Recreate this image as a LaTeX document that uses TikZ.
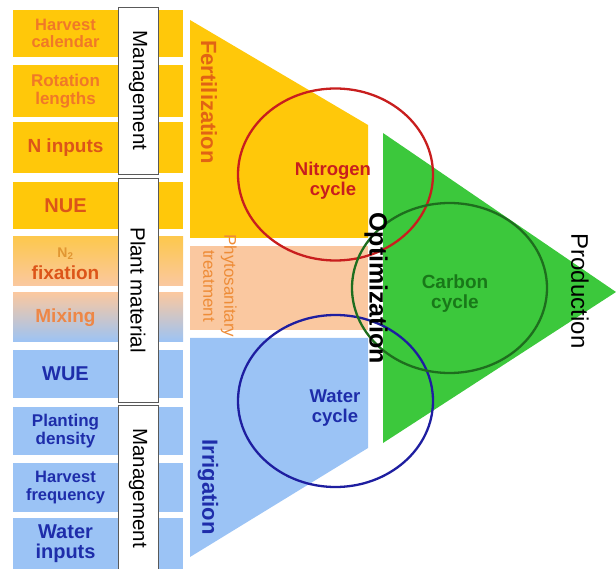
\documentclass[tikz,border=0pt]{standalone}
\usepackage{fontspec}
\setmainfont{Liberation Sans}
\definecolor{cyellow}{RGB}{255,200,10}
\definecolor{cpeach}{RGB}{250,200,160}
\definecolor{cblue}{RGB}{155,195,245}
\definecolor{cgreen}{RGB}{60,200,60}
\definecolor{torange}{RGB}{240,120,40}
\definecolor{tred}{RGB}{220,85,25}
\definecolor{tgold}{RGB}{225,150,50}
\definecolor{tmix}{RGB}{238,135,70}
\definecolor{tblue}{RGB}{30,45,170}
\definecolor{tfert}{RGB}{225,100,20}
\definecolor{tphyto}{RGB}{238,140,55}
\definecolor{nred}{RGB}{200,30,30}
\definecolor{wblue}{RGB}{30,30,160}
\definecolor{cdkgreen}{RGB}{30,110,30}
\definecolor{tcarbon}{RGB}{25,120,25}
\newcommand{\fsz}[2]{\fontsize{#1}{#2}\selectfont}
\begin{document}
\begin{tikzpicture}[x=1pt,y=-1pt,
  lbl/.style={inner sep=0pt, align=center, font=\bfseries\fsz{17}{18}},
  side/.style={draw=black!65, line width=0.8pt, fill=white, minimum height=40pt,
    inner sep=0pt, rotate=-90, font=\fsz{20.5}{22}},
  vtext/.style={inner sep=0pt, rotate=-90, align=center},
  cyc/.style={line width=2.3pt}]
\useasboundingbox (0,0) rectangle (616,569);

% left column of factor rows
\fill[cyellow] (13,10) rectangle (183,57);
\fill[cyellow] (13,65) rectangle (183,117);
\fill[cyellow] (13,122) rectangle (183,173);
\fill[cyellow] (13,182) rectangle (183,229);
\shade[top color=cyellow!55!cpeach, bottom color=cpeach] (13,237) rectangle (183,286);
\shade[top color=cpeach, middle color=cpeach!70!cblue, bottom color=cblue] (13,293) rectangle (183,342);
\fill[cblue] (13,350) rectangle (183,398);
\fill[cblue] (13,407) rectangle (183,455);
\fill[cblue] (13,463) rectangle (183,512);
\fill[cblue] (13,518) rectangle (183,569);

% group labels
\node[side, minimum width=167pt] (mgmtA) at (138,90.5) {Management};
\node[side, minimum width=224pt] (plant) at (138,290) {Plant material};
\node[side, minimum width=166pt] (mgmtB) at (138,488) {Management};

% practices: fertilization / phytosanitary / irrigation
\fill[cyellow] (190,20) -- (368,125) -- (368,238) -- (190,238) -- cycle;
\fill[cpeach] (190,246) rectangle (368,330);
\fill[cblue] (190,338) -- (368,338) -- (368,448) -- (190,557) -- cycle;

% production triangle
\fill[cgreen] (383,133) -- (616,292) -- (383,443) -- cycle;

% cycles
\draw[cyc, nred] (335.5,174.5) ellipse [x radius=97.5pt, y radius=86pt];
\draw[cyc, wblue] (335.5,401) ellipse [x radius=97.5pt, y radius=86pt];
\draw[cyc, cdkgreen] (449.5,288) ellipse [x radius=97.5pt, y radius=85pt];

% row texts
\node[lbl, torange, font=\bfseries\fsz{16.5}{17}] (hc) at (65.5,33.5) {Harvest\\calendar};
\node[lbl, torange] (rl) at (65.5,91) {Rotation\\lengths};
\node[lbl, tred, font=\bfseries\fsz{19}{20}] (ni) at (65.5,147.5) {N inputs};
\node[lbl, tred, font=\bfseries\fsz{20}{21}] (nue) at (65.5,205.5) {NUE};
\node[lbl, tgold, font=\bfseries\fsz{14}{15}] (ntwo) at (65.5,254) {N\textsubscript{2}};
\node[lbl, tred, font=\bfseries\fsz{19}{20}] (fix) at (65.5,273) {fixation};
\node[lbl, tmix, font=\bfseries\fsz{19}{20}] (mix) at (65.5,318) {Mixing};
\node[lbl, tblue, font=\bfseries\fsz{20}{21}] (wue) at (65.5,374) {WUE};
\node[lbl, tblue] (pd) at (65.5,431) {Planting\\density};
\node[lbl, tblue, font=\bfseries\fsz{16.5}{18}] (hf) at (65.5,487.5) {Harvest\\frequency};
\node[lbl, tblue, font=\bfseries\fsz{20}{20}] (wi) at (65.5,544) {Water\\inputs};

% practice labels
\node[vtext, tfert, font=\bfseries\fsz{22}{24}] (fert) at (209,102) {Fertilization};
\node[vtext, tphyto, font=\fsz{17}{21}] (phyto) at (220,286) {Phytosanitary\\treatment};
\node[vtext, tblue, font=\bfseries\fsz{22}{24}] (irr) at (208,487) {Irrigation};

% cycle labels
\node[lbl, nred, font=\bfseries\fsz{18.5}{20}] (nitro) at (333,181) {Nitrogen\\cycle};
\node[lbl, tblue, font=\bfseries\fsz{18.5}{20}] (water) at (335,408) {Water\\cycle};
\node[lbl, tcarbon, font=\bfseries\fsz{19}{20}] (carbon) at (455,294) {Carbon\\cycle};

% axis words
\node[vtext, font=\bfseries\fsz{25}{26}] (opt) at (376,288) {Optimization};
\node[vtext, font=\fsz{24}{25}] (prod) at (580,291) {Production};
\end{tikzpicture}
\end{document}
